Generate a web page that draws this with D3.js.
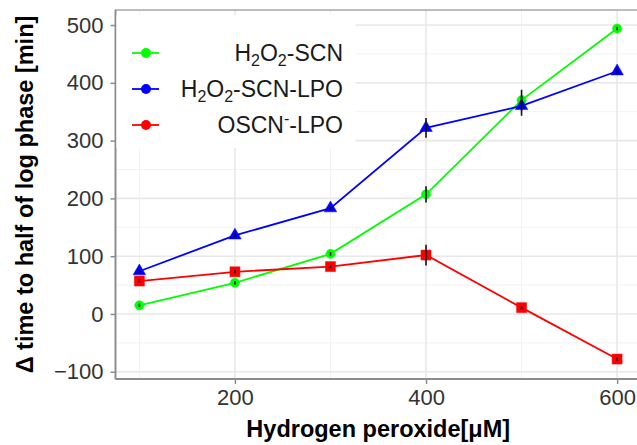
<!DOCTYPE html>
<meta charset="utf-8">
<script src="https://d3js.org/d3.v7.min.js"></script>
<style>
  body { margin: 0; background: #fff; }
  text { font-family: "Liberation Sans", Arial, sans-serif; }
</style>
<div id="chart"></div>
<script>
  // peroxide concentrations (uM)
  var doses = [100, 200, 300, 400, 500, 600];
  // delta time to half of log phase [min]
  var scn    = [15, 54, 104, 207, 370, 494];
  var scnLpo = [74, 136, 183, 322, 360, 420];
  var oscn   = [57, 73, 82, 102, 11, -78];
  // standard errors
  var scnErr    = [3, 3, 3, 14, 18, 3];
  var scnLpoErr = [3, 3, 3, 17, 17, 3];
  var oscnErr   = [3, 3, 3, 18, 3, 3];

  var xTicks = [200, 400, 600];
  var xMinor = [100, 300, 500];
  var yTicks = [-100, 0, 100, 200, 300, 400, 500];
  var yMinor = [-50, 50, 150, 250, 350, 450];

  var width = 637, height = 445;
  // panel edges
  var pL = 115.5, pT = 10, pR = 641, pB = 379;

  var svg = d3.select("#chart").append("svg").attr("width", width).attr("height", height);

  var x = d3.scaleLinear().domain([75, 625]).range([pL, pR]);
  var y = d3.scaleLinear().domain([-112.5, 526]).range([pB, pT]);

  var series = [
    {name: "scn",    values: scn,    err: scnErr,    color: "#00ff00", shape: "circle"},
    {name: "scnLpo", values: scnLpo, err: scnLpoErr, color: "#0000ff", shape: "triangle"},
    {name: "oscn",   values: oscn,   err: oscnErr,   color: "#ff0000", shape: "square"}
  ];

  // grid
  var grid = svg.append("g");
  grid.selectAll(".ym").data(yMinor).enter().append("line")
    .attr("x1", pL).attr("x2", pR)
    .attr("y1", function(d) { return y(d); }).attr("y2", function(d) { return y(d); })
    .style("stroke", "#f2f2f2").style("stroke-width", 1);
  grid.selectAll(".xm").data(xMinor).enter().append("line")
    .attr("y1", pT).attr("y2", pB)
    .attr("x1", function(d) { return x(d); }).attr("x2", function(d) { return x(d); })
    .style("stroke", "#f2f2f2").style("stroke-width", 1);
  grid.selectAll(".yM").data(yTicks).enter().append("line")
    .attr("x1", pL).attr("x2", pR)
    .attr("y1", function(d) { return y(d); }).attr("y2", function(d) { return y(d); })
    .style("stroke", "#e8e8e8").style("stroke-width", 1.6);
  grid.selectAll(".xM").data(xTicks).enter().append("line")
    .attr("y1", pT).attr("y2", pB)
    .attr("x1", function(d) { return x(d); }).attr("x2", function(d) { return x(d); })
    .style("stroke", "#e8e8e8").style("stroke-width", 1.6);

  // panel border
  svg.append("rect").attr("x", pL).attr("y", pT)
    .attr("width", pR - pL).attr("height", pB - pT)
    .style("fill", "none").style("stroke", "#9a9a9a").style("stroke-width", 1.3);

  // axes
  var yAxis = svg.append("g").attr("transform", "translate(" + pL + ",0)")
    .call(d3.axisLeft(y).tickValues(yTicks).tickSize(5).tickPadding(7).tickFormat(function(d) { return d < 0 ? "\u2212" + (-d) : d; }));
  var xAxis = svg.append("g").attr("transform", "translate(0," + pB + ")")
    .call(d3.axisBottom(x).tickValues(xTicks).tickSize(5).tickPadding(5));
  [xAxis, yAxis].forEach(function(a) {
    a.select(".domain").style("stroke", "#8c8c8c").style("stroke-width", 1.8);
    a.selectAll(".tick line").style("stroke", "#8c8c8c").style("stroke-width", 1.5);
    a.selectAll(".tick text").style("font-size", "22px").style("fill", "#333")
      .style("font-family", "'Liberation Sans', Arial, sans-serif");
  });
  yAxis.select(".domain").attr("d", "M0," + pT + "V" + pB);
  xAxis.select(".domain").attr("d", "M" + pL + ",0H" + pR);

  // lines
  var line = d3.line()
    .x(function(d, i) { return x(doses[i]); })
    .y(function(d) { return y(d); });

  series.forEach(function(s) {
    svg.append("path").datum(s.values).attr("d", line)
      .style("fill", "none").style("stroke", s.color).style("stroke-width", 1.8);
  });

  var shapes = {circle: d3.symbolCircle, triangle: d3.symbolTriangle, square: d3.symbolSquare};
  var sizes = {circle: 66, triangle: 68, square: 100};

  series.forEach(function(s) {
    svg.selectAll(".pt-" + s.name).data(s.values).enter().append("path")
      .attr("d", d3.symbol().type(shapes[s.shape]).size(sizes[s.shape]))
      .attr("transform", function(d, i) { return "translate(" + x(doses[i]) + "," + y(d) + ")"; })
      .style("fill", s.color).style("stroke", s.color).style("stroke-width", 0.5);
  });

  // error bars
  series.forEach(function(s) {
    svg.selectAll(".eb-" + s.name).data(s.values).enter().append("line")
      .attr("x1", function(d, i) { return x(doses[i]); })
      .attr("x2", function(d, i) { return x(doses[i]); })
      .attr("y1", function(d, i) { return y(d - s.err[i]); })
      .attr("y2", function(d, i) { return y(d + s.err[i]); })
      .style("stroke", "#111").style("stroke-width", 1.6);
  });

  // legend
  var legend = svg.append("g");
  legend.append("rect").attr("x", pL + 1).attr("y", 15).attr("width", 239).attr("height", 133)
    .style("fill", "#fff");
  var labels = [
    [["H", 0], ["2", 1], ["O", 0], ["2", 1], ["-SCN", 0]],
    [["H", 0], ["2", 1], ["O", 0], ["2", 1], ["-SCN-LPO", 0]],
    [["OSCN", 0], ["-", 2], ["-LPO", 0]]
  ];
  series.forEach(function(s, i) {
    var ly = 53 + i * 36;
    legend.append("line").attr("x1", 132).attr("x2", 159).attr("y1", ly).attr("y2", ly)
      .style("stroke", s.color).style("stroke-width", 1.8);
    legend.append("circle").attr("cx", 146).attr("cy", ly).attr("r", 5).style("fill", s.color);
    var t = legend.append("text").attr("x", 343).attr("y", ly + 8)
      .attr("text-anchor", "end").style("font-size", "23px").style("fill", "#1a1a1a");
    var shift = 0;
    labels[i].forEach(function(p) {
      var want = p[1] == 1 ? 5 : (p[1] == 2 ? -9 : 0);
      var ts = t.append("tspan").text(p[0]).attr("dy", want - shift);
      if (p[1] > 0) ts.style("font-size", "16px");
      shift = want;
    });
  });

  // axis titles
  svg.append("text").attr("x", (pL + pR) / 2).attr("y", 437)
    .attr("text-anchor", "middle").style("font-size", "23.5px").style("font-weight", "bold")
    .text("Hydrogen peroxide[\u03bcM]");
  svg.append("text").attr("transform", "translate(33," + (pT + pB) / 2 + ") rotate(-90)")
    .attr("text-anchor", "middle").style("font-size", "23.5px").style("font-weight", "bold")
    .text("\u0394 time to half of log phase [min]");
</script>
